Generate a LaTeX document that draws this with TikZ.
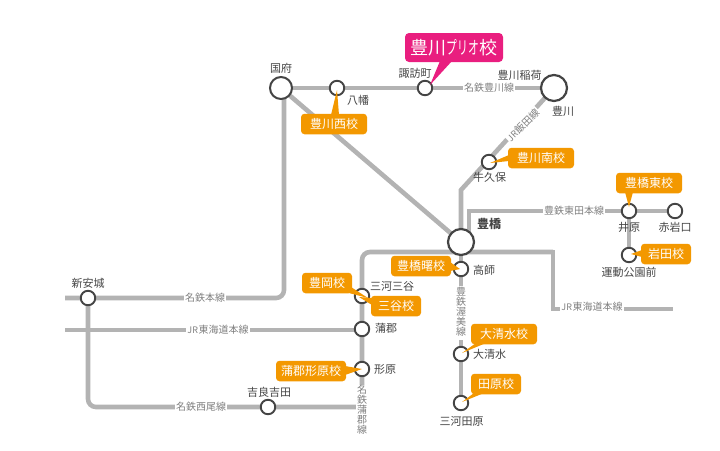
\documentclass[tikz,border=0pt]{standalone}
\usepackage{fontspec}
\setmainfont{Noto Sans CJK JP}
\usetikzlibrary{backgrounds}
\definecolor{lineg}{HTML}{B3B3B3}
\definecolor{ringg}{HTML}{444444}
\definecolor{orng}{HTML}{F39800}
\definecolor{pnk}{HTML}{E91E7F}
\definecolor{txtg}{HTML}{444444}
\definecolor{lblg}{HTML}{808080}
\newcommand{\fs}[1]{\fontsize{#1}{#1}\selectfont}
\newcommand{\vstack}[1]{\begin{tabular}{@{}c@{}}#1\end{tabular}}
\tikzset{
  x=1pt,y=-1pt,
  trk/.style={draw=lineg,line width=4.6pt,line join=miter},
  stn/.style={circle,draw=ringg,fill=white,line width=1.9pt,inner sep=0pt,minimum size=14.5pt},
  bigstn/.style={stn,line width=2pt,minimum size=22pt},
  hugestn/.style={stn,line width=2.2pt,minimum size=26pt},
  stl/.style={text=txtg,inner sep=0pt,font=\fs{11}},
  linelbl/.style={text=lblg,fill=white,inner sep=1pt,font=\fs{10}},
  school/.style={fill=orng,text=white,rounded corners=3.5pt,inner sep=0pt,minimum height=20.5pt,font=\fs{12}},
  tail/.style={fill=orng},
}
\begin{document}
\begin{tikzpicture}
\useasboundingbox (0,0) rectangle (720,450);
% junctions and free ends
\coordinate (mwest) at (65,298);
\coordinate (mcorner) at (284,298);
\coordinate (mtop) at (284,88);
\coordinate (jwest) at (65,330);
\coordinate (jbend1) at (362,252);
\coordinate (jbend2) at (553,252);
\coordinate (jbend3) at (553,309);
\coordinate (jeast) at (673,309);
\coordinate (ibend) at (461,190);
\coordinate (tbase) at (469,235);
\coordinate (tbend) at (469,211);
\coordinate (wcorner) at (88,407);
\coordinate (wend) at (356,407);
\coordinate (gend) at (362,392);
% stations
\node[bigstn] (kokufu) at (281,88) {};
\node[stn] (yawata) at (337,88) {};
\node[stn] (suwacho) at (425,88) {};
\node[hugestn] (toyokawa) at (554,88) {};
\node[stn] (ushikubo) at (489,162) {};
\node[hugestn] (toyohashi) at (461,242) {};
\node[stn] (takashi) at (461,269) {};
\node[stn] (mikawamiya) at (362,296) {};
\node[stn] (gamagori) at (362,329) {};
\node[stn] (katahara) at (362,369) {};
\node[stn] (kira) at (268,407) {};
\node[stn] (shinanjo) at (88,298) {};
\node[stn] (oshimizu) at (461,354) {};
\node[stn] (tahara) at (461,403) {};
\node[stn] (ihara) at (629,211) {};
\node[stn] (akaiwa) at (675,211) {};
\node[stn] (undo) at (629,255) {};
% tracks
\begin{scope}[on background layer]
\draw[trk] (kokufu.center) -- (toyokawa.center);
\draw[trk] (kokufu.center) -- (toyohashi.center);
\draw[trk,rounded corners=8pt] (mtop) -- (mcorner) -- (mwest);
\draw[trk] (jwest) -- (jwest -| gamagori);
\draw[trk,rounded corners=8pt] (gend) -- (jbend1) -- (toyohashi.center |- jbend1) -- (jbend2);
\draw[trk,line join=miter] (toyohashi.center |- jbend1) -- (jbend2) -- (jbend3) -- (jeast);
\draw[trk,line join=miter] (toyokawa.center) -- (ibend) -- (toyohashi.center);
\draw[trk,line join=miter] (tbase) -- (tbend) -- (akaiwa.center);
\draw[trk] (ihara.center) -- (undo.center);
\draw[trk] (toyohashi.center) -- (tahara.center);
\draw[trk,rounded corners=8pt] (shinanjo.center) -- (wcorner) -- (wend);
\end{scope}
% line labels
\node[linelbl] (l1) at (489,88) {名鉄豊川線};
\node[linelbl,rotate=45] (l2) at (523,125) {\fontsize{9}{9}\selectfont JR\hspace{0.5pt}\fs{10}飯田線};
\node[linelbl] (l3) at (574,211) {豊鉄東田本線};
\node[linelbl] (l4) at (205,298) {名鉄本線};
\node[linelbl] (l5) at (218,330) {\fontsize{9}{9}\selectfont JR\hspace{0.5pt}\fs{10}東海道本線};
\node[linelbl] (l6) at (201,407) {名鉄西尾線};
\node[linelbl] (l7) at (592,307) {\fontsize{9}{9}\selectfont JR\hspace{0.5pt}\fs{10}東海道本線};
\node[linelbl,inner xsep=1pt] (l8) at (461,313) {\fs{10}\vstack{豊\\[-1.4pt]鉄\\[-1.4pt]渥\\[-1.4pt]美\\[-1.4pt]線}};
\node[linelbl,inner xsep=1pt] (l9) at (362,411) {\fs{10}\vstack{名\\[-1.4pt]鉄\\[-1.4pt]蒲\\[-1.4pt]郡\\[-1.4pt]線}};
% station labels
\node[stl] at (281,68) {国府};
\node[stl] at (358,100) {八幡};
\node[stl] at (415,73) {諏訪町};
\node[stl] at (519.5,75) {豊川稲荷};
\node[stl] at (563,111) {豊川};
\node[stl] at (489.5,177.5) {牛久保};
\node[stl,font=\fs{12}\bfseries] at (489,224) {豊橋};
\node[stl] at (484,270) {高師};
\node[stl] at (392,286.5) {三河三谷};
\node[stl] at (386,328.5) {蒲郡};
\node[stl] at (385,369) {形原};
\node[stl] at (269,392) {吉良吉田};
\node[stl] at (88,283) {新安城};
\node[stl] at (489.5,354) {大清水};
\node[stl] at (461.5,421) {三河田原};
\node[stl] at (629,227) {井原};
\node[stl] at (675,227) {赤岩口};
\node[stl] at (629,272) {運動公園前};
% school balloons
\fill[pnk] (430,85) -- (440,61) -- (452,61) -- cycle;
\node[fill=pnk,text=white,rounded corners=4pt,inner sep=0pt,minimum width=98pt,minimum height=29pt] (prio) at (454,47.5) {\fs{18}豊川\scalebox{0.6}[1]{プリオ}校};
\fill[tail] (337,90) -- (331,115) -- (339,115) -- cycle;
\node[school,minimum width=66pt] (s1) at (334,124) {豊川西校};
\fill[tail] (490,163) -- (509,155) -- (509,161) -- cycle;
\node[school,minimum width=66pt] (s2) at (541,158) {豊川南校};
\fill[tail] (629,207) -- (625,192) -- (633,192) -- cycle;
\node[school,minimum width=66pt] (s3) at (649,183) {豊橋東校};
\fill[tail] (631,254) -- (642,250) -- (642,257) -- cycle;
\node[school,minimum width=50pt] (s4) at (666,254) {岩田校};
\fill[tail] (460,269) -- (450,262) -- (450,271) -- cycle;
\node[school,minimum width=60pt] (s5) at (421,266) {豊橋曙校};
\fill[tail] (368,298) -- (345,292) -- (351,287) -- cycle;
\node[school,minimum width=50pt] (s6) at (327,283) {豊岡校};
\fill[tail] (359,297) -- (372,298) -- (372,305) -- cycle;
\node[school,minimum width=50pt] (s7) at (396,306) {三谷校};
\fill[tail] (362,369) -- (345,366) -- (345,375) -- cycle;
\node[school,minimum width=70pt] (s8) at (311,371) {蒲郡形原校};
\fill[tail] (462,353) -- (476,343) -- (486,343) -- cycle;
\node[school,minimum width=66pt] (s9) at (504,334) {大清水校};
\fill[tail] (462,402) -- (474,393) -- (484,393) -- cycle;
\node[school,minimum width=50pt] (s10) at (496,384) {田原校};
\end{tikzpicture}
\end{document}
